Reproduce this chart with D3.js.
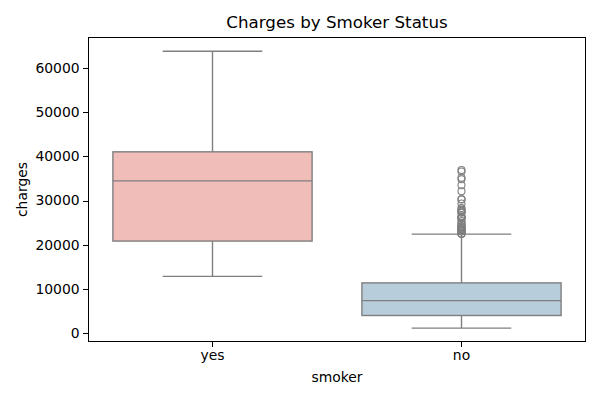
<!DOCTYPE html>
<html>
<head>
<meta charset="utf-8">
<script src="https://cdn.jsdelivr.net/npm/d3@7"></script>
<style>
  body { margin: 0; background: #fff; }
  text { font-family: "DejaVu Sans", sans-serif; fill: #000; }
</style>
</head>
<body>
<svg id="chart" width="600" height="400"></svg>
<script>
const categories = ["yes", "no"];
const whiskerLow = [12829, 1122];
const q1 = [20826, 3986];
const median = [34456, 7345];
const q3 = [41019, 11363];
const whiskerHigh = [63770, 22395];
const outliersYes = [];
const outliersNo = [36910, 36580, 35160, 34806, 33472, 32108, 30285, 30260, 29331, 28288, 27941, 27724, 27534, 27346, 27218, 26392, 26237, 26140, 26019, 25993, 25333, 24915, 24667, 24227, 24107, 24060, 23807, 23563, 23401, 23307, 23289, 23242, 23083, 23065, 23046, 22494, 22479, 22462];
const outliers = [outliersYes, outliersNo];
const fillColors = ["#f1bdb8", "#b8cddc"];
const yTicks = [0, 10000, 20000, 30000, 40000, 50000, 60000];

(function () {
const svg = d3.select("#chart");
const mLeft = 88, mRight = 586, mTop = 37, mBottom = 342;

const x = d3.scaleBand().domain(categories).range([mLeft, mRight]).paddingInner(0).paddingOuter(0);
const y = d3.scaleLinear().domain([-2010, 67000]).range([mBottom, mTop]);

const edge = "#7f7f7f";
const bw = x.bandwidth() * 0.8;
const capW = bw / 2;

const data = categories.map((c, i) => ({
  c, lo: whiskerLow[i], q1: q1[i], med: median[i], q3: q3[i], hi: whiskerHigh[i], out: outliers[i], fill: fillColors[i]
}));

const g = svg.append("g");
data.forEach(d => {
  const cx = x(d.c) + x.bandwidth() / 2;
  const gg = g.append("g");
  gg.append("line").attr("x1", cx).attr("x2", cx).attr("y1", y(d.q3)).attr("y2", y(d.hi))
    .attr("stroke", edge).attr("stroke-width", 1.4);
  gg.append("line").attr("x1", cx).attr("x2", cx).attr("y1", y(d.q1)).attr("y2", y(d.lo))
    .attr("stroke", edge).attr("stroke-width", 1.4);
  gg.append("line").attr("x1", cx - capW / 2).attr("x2", cx + capW / 2).attr("y1", y(d.hi)).attr("y2", y(d.hi))
    .attr("stroke", edge).attr("stroke-width", 1.4);
  gg.append("line").attr("x1", cx - capW / 2).attr("x2", cx + capW / 2).attr("y1", y(d.lo)).attr("y2", y(d.lo))
    .attr("stroke", edge).attr("stroke-width", 1.4);
  gg.append("rect").attr("x", cx - bw / 2).attr("width", bw)
    .attr("y", y(d.q3)).attr("height", y(d.q1) - y(d.q3))
    .attr("fill", d.fill).attr("stroke", edge).attr("stroke-width", 1.4);
  gg.append("line").attr("x1", cx - bw / 2).attr("x2", cx + bw / 2).attr("y1", y(d.med)).attr("y2", y(d.med))
    .attr("stroke", edge).attr("stroke-width", 1.4);
  gg.selectAll("circle").data(d.out).enter().append("circle")
    .attr("cx", cx).attr("cy", v => y(v)).attr("r", 3.5)
    .attr("fill", "none").attr("stroke", edge).attr("stroke-width", 1.1);
});

const yAxis = d3.axisLeft(y).tickValues(yTicks).tickFormat(d3.format("d")).tickSize(4.9).tickPadding(3.5);
const ya = svg.append("g").attr("transform", `translate(${mLeft},0)`).call(yAxis);
const xAxis = d3.axisBottom(x).tickSize(4.9).tickPadding(3.5);
const xa = svg.append("g").attr("transform", `translate(0,${mBottom})`).call(xAxis);
[ya, xa].forEach(a => {
  a.select(".domain").remove();
  a.selectAll(".tick line").attr("stroke", "#000").attr("stroke-width", 1).attr("shape-rendering", "crispEdges");
  a.selectAll(".tick text").attr("font-size", "13.9px").attr("font-family", "DejaVu Sans").attr("fill", "#000");
});

svg.append("rect").attr("x", mLeft + 0.5).attr("y", mTop + 0.5).attr("width", mRight - mLeft - 1).attr("height", mBottom - mTop - 1)
  .attr("fill", "none").attr("stroke", "#000").attr("stroke-width", 1).attr("shape-rendering", "crispEdges");

svg.append("text").attr("x", (mLeft + mRight) / 2).attr("y", 28).attr("text-anchor", "middle")
  .attr("font-size", "16.7px").text("Charges by Smoker Status");
svg.append("text").attr("x", (mLeft + mRight) / 2).attr("y", 382).attr("text-anchor", "middle")
  .attr("font-size", "13.9px").text("smoker");
svg.append("text").attr("transform", `translate(27,${(mTop + mBottom) / 2}) rotate(-90)`).attr("text-anchor", "middle")
  .attr("font-size", "13.9px").text("charges");
})();
</script>
</body>
</html>
